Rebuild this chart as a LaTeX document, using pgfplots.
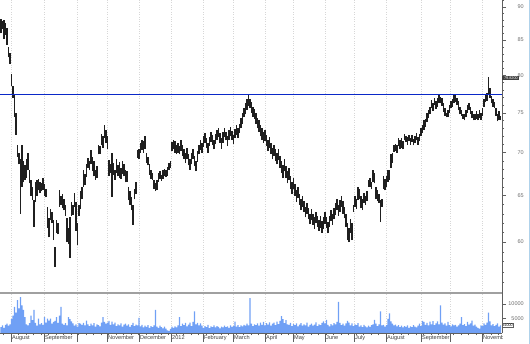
\documentclass[border=0pt]{standalone}
\usepackage{fontspec}
\setmainfont{Liberation Sans}
\usepackage{pgfplots}
\usepackage{pgfplotstable}
\pgfplotsset{compat=1.18}
\definecolor{volblue}{RGB}{112,160,245}
\definecolor{axgray}{RGB}{95,95,95}
\definecolor{lblgray}{RGB}{110,110,110}
\definecolor{sepgray}{RGB}{160,160,160}
\definecolor{hline}{RGB}{10,40,200}
\definecolor{gridgray}{RGB}{215,215,215}
\definecolor{edgeblue}{RGB}{175,210,235}

\pgfplotstableread{
d lo hi v
0 86.0 88.2 2000
1 86.6 87.8 2600
2 85.2 88.0 1800
3 85.8 87.5 2800
4 84.3 86.8 3200
5 82.5 84.0 2500
6 81.6 83.2 3000
7 78.5 80.2 4800
8 77.0 78.6 6000
9 74.5 77.4 9000
10 72.2 75.0 7000
11 69.5 71.0 11300
12 68.6 70.0 8500
13 63.0 69.2 12400
14 66.0 70.9 9500
15 66.5 69.0 8000
16 66.8 68.5 5500
17 67.0 69.3 3000
18 67.9 70.0 2600
19 66.4 68.0 3400
20 65.0 66.8 6000
21 64.5 66.0 4400
22 61.6 64.5 8000
23 64.3 66.5 3500
24 65.0 66.8 2500
25 65.6 66.9 5000
26 65.3 66.5 3000
27 65.5 66.4 3400
28 65.6 67.0 2800
29 65.0 66.3 5500
30 64.8 65.8 3600
31 61.5 63.8 5000
32 60.5 62.5 4300
33 62.3 63.5 5000
34 62.0 63.2 3200
35 60.2 62.3 3800
36 57.5 59.5 4200
37 61.0 62.3 5500
38 60.8 62.0 3500
39 63.8 65.6 6000
40 64.0 65.0 9000
41 63.6 65.2 3200
42 63.4 64.6 2800
43 62.8 64.0 3400
44 60.0 62.5 2600
45 59.8 61.5 5500
46 58.4 62.7 4800
47 62.8 64.3 4000
48 62.9 64.0 3300
49 63.8 65.3 2500
50 61.2 64.3 3000
51 59.7 62.0 2200
52 62.8 64.0 3400
53 63.5 65.5 3200
54 64.6 66.0 2800
55 66.0 67.9 3500
56 66.2 67.5 2600
57 67.1 68.7 4300
58 68.2 69.4 3000
59 67.9 69.0 2400
60 68.6 70.3 3200
61 67.8 69.5 2600
62 67.2 69.0 3400
63 66.8 68.0 2200
64 67.0 68.4 3000
65 69.8 70.9 2700
66 69.9 70.8 2300
67 70.9 72.3 3600
68 70.6 72.0 5500
69 71.8 73.4 3800
70 71.2 72.8 3200
71 70.5 72.0 3600
72 67.3 69.1 4200
73 67.6 68.6 2800
74 64.9 70.0 3900
75 67.4 68.8 3000
76 66.8 68.0 3600
77 67.6 69.2 2400
78 67.2 68.5 3000
79 67.0 68.9 2600
80 66.9 68.2 3300
81 67.5 69.0 2200
82 67.2 68.6 2900
83 66.5 68.0 3200
84 66.6 67.8 2500
85 64.5 66.0 3000
86 64.0 65.5 2100
87 63.4 64.8 2700
88 61.8 64.0 3500
89 64.6 65.8 2400
90 65.2 66.5 2900
91 69.4 70.3 2600
92 69.2 70.5 5200
93 70.0 71.2 2300
94 70.3 71.6 2800
95 70.0 71.4 1900
96 70.5 72.0 2500
97 68.8 70.0 2100
98 68.5 69.5 2700
99 67.4 68.6 1800
100 66.9 68.0 2400
101 66.8 67.6 2000
102 65.8 66.8 2600
103 65.5 66.4 8000
104 65.6 66.8 2200
105 66.6 67.6 1800
106 66.9 67.8 2500
107 66.7 67.4 2000
108 66.9 67.9 1600
109 67.2 68.1 2200
110 67.1 68.0 1500
111 67.3 68.3 900
112 68.0 68.8 700
113 68.2 69.0 1400
114 70.2 71.3 2200
115 70.5 71.6 1800
116 70.0 71.4 2300
117 69.8 71.0 1900
118 70.0 71.2 2600
119 69.8 70.8 5500
120 70.2 71.5 2400
121 69.6 71.0 3200
122 69.3 70.5 2700
123 68.8 70.0 3500
124 69.2 70.6 2300
125 68.5 69.8 2900
126 68.0 69.3 3600
127 68.6 70.0 2400
128 69.3 70.4 3800
129 68.4 69.6 7500
130 67.8 69.0 3000
131 68.9 70.2 3500
132 69.8 71.0 2600
133 70.3 71.5 3300
134 70.0 71.2 2500
135 70.7 72.0 1800
136 71.2 72.4 2400
137 70.6 71.8 2000
138 70.0 71.2 2800
139 70.8 71.9 1700
140 71.3 72.6 2300
141 71.0 72.2 2000
142 70.4 71.6 2600
143 71.1 72.3 1900
144 71.6 72.8 2400
145 71.9 73.0 2100
146 71.2 72.4 1600
147 70.5 71.8 2200
148 71.2 72.5 1900
149 71.9 73.1 2500
150 71.5 72.6 2000
151 70.8 72.0 2300
152 71.6 72.8 1800
153 72.0 73.2 2600
154 71.6 72.7 2100
155 71.1 72.2 2400
156 71.8 72.9 3900
157 72.2 73.4 2200
158 71.8 73.0 2700
159 72.4 73.6 2000
160 73.0 74.3 2600
161 73.6 75.0 2300
162 74.4 75.6 2800
163 74.8 76.2 2500
164 75.4 76.8 3200
165 75.9 77.3 2600
166 75.6 76.8 12000
167 75.0 76.4 3200
168 74.5 75.8 2400
169 74.2 75.5 3000
170 73.6 75.0 2700
171 73.0 74.3 3300
172 72.6 74.0 2500
173 72.0 73.4 3600
174 71.6 73.0 2800
175 71.2 72.5 3800
176 71.4 72.8 2600
177 70.8 72.2 3400
178 70.2 71.6 2900
179 70.6 71.9 3700
180 69.9 71.2 2500
181 69.2 70.6 3200
182 69.6 71.0 3600
183 69.0 70.4 2700
184 68.6 70.0 3900
185 69.1 70.5 3100
186 68.2 69.6 4200
187 67.6 69.0 5800
188 67.0 68.5 4800
189 67.8 69.2 3400
190 67.0 68.4 4400
191 66.4 67.8 3000
192 66.8 68.2 2800
193 65.8 67.2 3500
194 65.2 66.6 2400
195 65.7 67.0 3100
196 65.0 66.3 2700
197 64.3 65.6 3300
198 64.7 66.0 2300
199 64.0 65.2 2900
200 63.4 64.6 3400
201 63.8 65.0 2500
202 63.2 64.4 3000
203 62.6 63.8 2600
204 63.0 64.2 3600
205 62.4 63.6 2200
206 61.9 63.0 2800
207 62.3 63.5 3200
208 61.8 63.0 2500
209 61.4 62.6 2900
210 62.0 63.2 3700
211 61.6 62.8 2400
212 61.2 62.3 3000
213 61.5 62.8 2700
214 61.0 62.2 3500
215 61.4 62.6 4000
216 61.9 63.2 3300
217 61.5 62.6 4500
218 60.9 62.1 2800
219 61.6 62.8 2300
220 62.2 63.4 3100
221 61.8 63.0 2600
222 62.4 63.6 3400
223 62.9 64.2 3000
224 63.4 64.6 3800
225 62.8 64.0 10700
226 63.2 64.5 3500
227 63.8 65.0 2700
228 63.0 64.4 3200
229 62.5 63.8 2500
230 61.6 63.0 3300
231 60.2 62.0 4200
232 60.0 61.5 3600
233 61.0 62.4 2600
234 60.2 62.0 3300
235 63.2 64.0 2400
236 63.8 65.0 3000
237 63.5 64.6 2700
238 64.5 66.0 3400
239 64.6 65.8 2200
240 63.6 65.0 2600
241 63.4 64.6 2000
242 64.2 65.3 2800
243 64.0 65.0 2300
244 64.4 65.5 1900
245 66.0 66.8 2500
246 66.0 67.0 2100
247 65.7 66.6 2700
248 66.5 67.9 3000
249 66.4 67.6 4500
250 64.6 66.0 3200
251 64.4 65.6 2400
252 64.2 65.2 3000
253 62.1 64.5 7500
254 63.8 64.6 2600
255 65.8 67.2 2800
256 65.6 66.9 2200
257 66.0 67.3 2700
258 66.6 67.9 4900
259 66.8 68.0 6800
260 68.2 69.9 4000
261 68.8 70.0 3200
262 70.1 71.0 2600
263 70.2 71.1 2900
264 70.0 70.9 2300
265 70.8 71.8 2700
266 70.5 71.5 2000
267 70.6 71.8 2500
268 70.4 71.4 1900
269 71.5 72.3 2400
270 71.3 72.1 2100
271 71.0 71.9 2600
272 71.4 72.2 1800
273 71.0 71.8 2300
274 71.3 72.2 2000
275 70.9 71.7 2700
276 71.2 72.0 2200
277 71.5 72.4 1900
278 71.0 71.9 2500
279 71.4 72.3 3200
280 72.0 73.0 2400
281 72.4 73.4 4200
282 72.8 74.0 3800
283 73.2 74.2 2800
284 73.8 75.0 3500
285 74.3 75.4 2600
286 74.8 75.8 3900
287 75.6 76.7 3000
288 75.2 76.3 4100
289 76.0 76.9 2700
290 75.5 76.6 3300
291 75.8 76.9 4000
292 76.3 77.3 3000
293 76.2 77.1 9500
294 75.9 77.0 3600
295 75.1 76.2 2900
296 74.6 75.6 3300
297 74.4 75.0 2500
298 74.5 75.4 3800
299 75.0 76.0 2700
300 75.6 76.5 2300
301 75.8 76.8 3000
302 76.2 77.3 2600
303 76.4 77.5 2800
304 76.0 77.0 2200
305 75.3 76.5 2600
306 74.8 75.8 3200
307 74.6 75.4 5500
308 74.2 74.9 2700
309 74.0 74.8 3100
310 74.4 75.3 2400
311 75.0 76.0 3800
312 75.4 76.3 2900
313 74.9 75.8 3300
314 74.3 75.2 4300
315 74.0 74.8 2500
316 74.1 74.9 2900
317 74.2 75.2 2200
318 74.0 74.9 1800
319 74.3 75.3 1500
320 74.1 75.0 2600
321 74.6 75.6 2400
322 75.8 76.8 3300
323 76.4 77.4 2800
324 76.6 77.6 3600
325 77.4 79.8 7000
326 77.0 78.3 4000
327 76.2 77.2 2600
328 75.8 76.8 3100
329 75.6 76.4 2400
330 74.6 75.6 2800
331 73.9 74.8 3300
332 74.0 75.2 2200
333 74.0 74.6 2600
}\stock

\pgfplotsset{
  monthgrid/.style={
    xtick={6.63,28.63,50.63,70.63,91.97,113.3,134.63,154.63,175.97,194.63,215.97,235.3,256.63,279.97,299.3,320.63},
    xmajorgrids,
    major grid style={gridgray, dotted, line width=0.5pt},
  },
}

\begin{document}
\begin{tikzpicture}[x=1pt,y=1pt]
\useasboundingbox (0,0) rectangle (530,344);

% price panel
\begin{axis}[
  at={(0pt,51pt)}, anchor=south west,
  scale only axis, width=502pt, height=293pt,
  xmin=-0.7, xmax=333.97,
  ymode=log, ymin=54.96, ymax=91.09,
  clip=false,
  monthgrid,
  xticklabels={},
  major x tick style={draw=none},
  axis x line*=bottom, axis y line*=right,
  x axis line style={draw=sepgray, line width=1.5pt, -},
  y axis line style={draw=axgray, line width=0.6pt, -},
  ytick={60,65,70,75,80,85,90},
  yticklabels={60,65,70,75,80,85,90},
  minor ytick={56,57,58,59,61,62,63,64,66,67,68,69,71,72,73,74,76,77,78,79,81,82,83,84,86,87,88,89,91},
  tick align=outside,
  major tick length=4pt, minor tick length=2pt,
  y tick style={draw=axgray, line width=0.5pt},
  yticklabel style={font=\fontsize{5.5}{6}\selectfont, text=lblgray, anchor=west, inner sep=0pt, text width=17.5pt, align=right},
  /pgf/number format/assume math mode=true,
]
\addplot[draw=none, mark=none, forget plot,
  error bars/.cd, y dir=plus, y explicit, error mark=none,
  error bar style={draw=black!88, line width=1.25pt}]
  table[x=d, y=lo, y error expr=\thisrow{hi}-\thisrow{lo}] {\stock};
\addplot[hline, line width=1.2pt, mark=none] coordinates {(-0.7,77.35) (333.97,77.35)};
\node[fill=black!75, text=white, font=\fontsize{3.8}{4}\selectfont, inner sep=0.8pt, anchor=west]
  at (axis cs:333.97,79.6) {\hspace*{1pt}79.8200};
\end{axis}

% volume panel
\begin{axis}[
  at={(0pt,11pt)}, anchor=south west,
  scale only axis, width=502pt, height=40pt,
  xmin=-0.7, xmax=333.97,
  ymin=0, ymax=13800,
  clip=false,
  monthgrid,
  xticklabels={August,September,,November,December,2012,February,March,April,May,June,July,August,September,,November},
  minor xtick={1.63,6.63,...,333},
  axis x line*=bottom, axis y line*=right,
  x axis line style={draw=axgray, line width=0.6pt, -},
  y axis line style={draw=axgray, line width=0.6pt, -},
  ytick=\empty,
  extra y ticks={5000,10000},
  extra y tick labels={5000,10000},
  extra y tick style={major tick length=4pt, yticklabel style={font=\fontsize{5.5}{6}\selectfont, text=lblgray, anchor=west, inner sep=0pt, text width=17.5pt, align=right}},
  tick align=outside,
  major tick length=9pt, minor tick length=2.5pt,
  tick style={draw=axgray, line width=0.5pt},
  xticklabel style={font=\fontsize{5.6}{6}\selectfont, text=black!75, anchor=north west, inner sep=0.5pt, xshift=0.5pt, yshift=7pt},
  ybar, bar width=0.8,
  /pgf/number format/assume math mode=true,
]
\addplot[fill=volblue, draw=none] table[x=d, y=v] {\stock};
\node[draw=axgray, fill=white, font=\fontsize{3.6}{4}\selectfont, inner sep=0.6pt, anchor=west, line width=0.4pt]
  at (axis cs:333.97,2700) {x1000};
\end{axis}

\fill[white] (502.8,0) rectangle (528,10.4);
\draw[edgeblue, line width=0.8pt] (529.4,0) -- (529.4,344);
\end{tikzpicture}
\end{document}
